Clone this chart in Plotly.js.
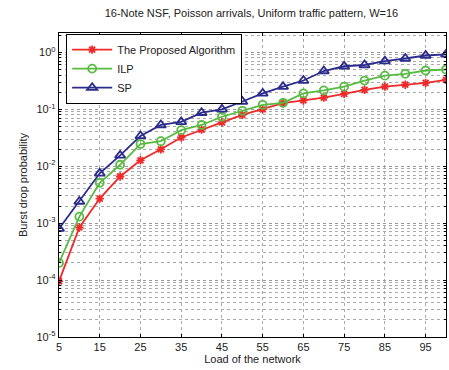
<!DOCTYPE html>
<html><head><meta charset="utf-8">
<script src="https://cdn.plot.ly/plotly-3.0.1.min.js"></script>
<style>html,body{margin:0;padding:0;background:#fff}#c{width:449px;height:370px}</style>
</head><body><div id="c"></div>
<script>
const load = [5,10,15,20,25,30,35,40,45,50,55,60,65,70,75,80,85,90,95,100];
const proposed = [9.5e-5,8.4e-4,2.7e-3,6.6e-3,0.0127,0.0198,0.032,0.044,0.059,0.08,0.1,0.128,0.143,0.16,0.187,0.22,0.25,0.27,0.29,0.33];
const ilp = [2e-4,1.3e-3,5.1e-3,0.0106,0.0245,0.0275,0.043,0.053,0.074,0.094,0.12,0.13,0.19,0.215,0.25,0.32,0.39,0.42,0.48,0.5];
const sp = [8e-4,2.4e-3,7.5e-3,0.0155,0.034,0.053,0.06,0.087,0.10,0.137,0.19,0.25,0.32,0.47,0.57,0.6,0.7,0.78,0.88,0.92];
const xTicks = [5,15,25,35,45,55,65,75,85,95];
const yTickVals = [1e-5,1e-4,1e-3,1e-2,1e-1,1];
const yTickText = ['10<sup>-5</sup>','10<sup>-4</sup>','10<sup>-3</sup>','10<sup>-2</sup>','10<sup>-1</sup>','10<sup>0</sup>'];

const font = {family:'Liberation Sans, Arial, sans-serif', size:11, color:'#222'};
const traces = [
  {x:load, y:proposed, name:'The Proposed Algorithm', mode:'lines+markers',
   line:{color:'#ee2a2a', width:1.8}, marker:{symbol:'asterisk-open', size:7, color:'#ee2a2a', line:{color:'#ee2a2a', width:1.8}}},
  {x:load, y:ilp, name:'ILP', mode:'lines+markers',
   line:{color:'#58bb42', width:1.8}, marker:{symbol:'circle-open', size:8, color:'#58bb42', line:{color:'#58bb42', width:1.8}}},
  {x:load, y:sp, name:'SP', mode:'lines+markers',
   line:{color:'#2c2c8c', width:1.8}, marker:{symbol:'triangle-up-open', size:9, color:'#2c2c8c', line:{color:'#2c2c8c', width:1.8}}}
];
const layout = {
  width:449, height:370, paper_bgcolor:'#fff', plot_bgcolor:'#fff', font:font,
  margin:{l:59, r:3, t:33, b:33},
  title:{text:'16-Note NSF, Poisson arrivals, Uniform traffic pattern, W=16', font:{family:font.family, size:11, color:'#222'}, x:0.56, xanchor:'center', y:0.975, yanchor:'top'},
  showlegend:true,
  legend:{x:0.018, y:0.997, xanchor:'left', yanchor:'top', bgcolor:'#fff', bordercolor:'#000', borderwidth:1.2, font:{family:font.family, size:11, color:'#222'}, tracegroupgap:0, itemwidth:40},
  xaxis:{range:[5,100], tickvals:xTicks, ticks:'inside', ticklen:3, tickcolor:'#000', showline:true, linecolor:'#000', linewidth:1.2, mirror:'ticks',
    showgrid:true, gridcolor:'#aaa', griddash:'dot', gridwidth:1, zeroline:false,
    title:{text:'Load of the network', font:{family:font.family, size:11, color:'#222'}, standoff:2}, tickfont:{size:11}},
  yaxis:{type:'log', range:[-5,0.34], tickvals:yTickVals, ticktext:yTickText, ticks:'inside', ticklen:3, tickcolor:'#000', showline:true, linecolor:'#000', linewidth:1.2, mirror:'ticks',
    showgrid:true, gridcolor:'#999', griddash:'dot', gridwidth:1, zeroline:false,
    minor:{dtick:'D1', showgrid:true, gridcolor:'#aaa', griddash:'dot', ticks:'inside', ticklen:2, tickcolor:'#000'},
    title:{text:'Burst drop probability', font:{family:font.family, size:11, color:'#222'}, standoff:6}, tickfont:{size:11}}
};
Plotly.newPlot('c', traces, layout, {displayModeBar:false, staticPlot:true});
</script></body></html>
